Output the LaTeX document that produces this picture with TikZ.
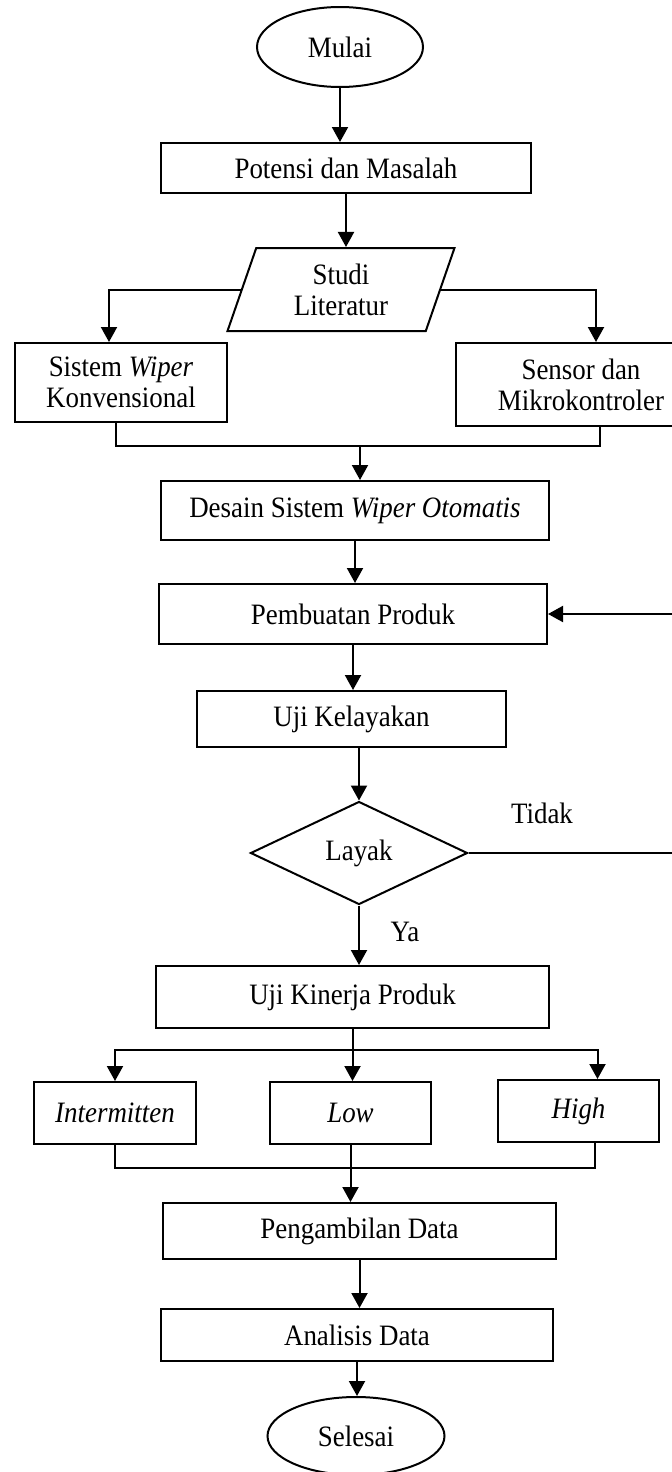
\documentclass[tikz,border=0pt]{standalone}
\usepackage{fontspec}
\setmainfont{Liberation Serif}[FakeStretch=0.91]
\usetikzlibrary{arrows.meta,shapes,calc}

\tikzset{
  blok/.style = {draw, rectangle, line width=1pt, align=center, inner sep=2pt},
  ujung/.style = {draw, ellipse, line width=1pt, inner sep=0pt},
  garis/.style = {line width=1pt},
  panah/.style = {line width=1pt, -{Triangle[length=7.5pt,width=8pt]}}
}

\begin{document}
\begin{tikzpicture}[x=0.5pt, y=-0.5pt, font=\fontsize{14.8}{15.5}\selectfont]
\useasboundingbox (0,0) rectangle (672,1472);

\node[ujung, minimum width=83pt, minimum height=40pt] (mulai) at (340,47) {Mulai};
\node[blok, minimum width=185pt, minimum height=25pt] (potensi) at (346,168) {Potensi dan Masalah};
\node[draw, trapezium, trapezium left angle=61, trapezium right angle=119,
      trapezium stretches body, line width=1pt, align=center, inner sep=0pt,
      minimum width=113.5pt, minimum height=41.5pt] (studi) at (341,289.5) {Studi\\Literatur};
\node[blok, minimum width=106pt, minimum height=39.5pt] (sistem) at (121,382.5) {Sistem \textit{Wiper}\\Konvensional};
\node[blok, minimum width=125pt, minimum height=41.5pt] (sensor) at (581,384.5) {Sensor dan\\Mikrokontroler};
\node[blok, minimum width=194pt, minimum height=29.5pt] (desain) at (355,510.5) {Desain Sistem \textit{Wiper Otomatis}};
\node[blok, minimum width=194pt, minimum height=30pt] (pembuatan) at (353,614) {Pembuatan Produk};
\node[blok, minimum width=154.5pt, minimum height=28pt] (kelayakan) at (351.5,719) {Uji Kelayakan};
\node[draw, diamond, line width=1pt, inner sep=0pt, minimum width=108.5pt, minimum height=51.5pt] (layak) at (359,853) {Layak};
\node (tidak) at (542,813) {Tidak};
\node (ya) at (405,932) {Ya};
\node[blok, minimum width=196.5pt, minimum height=31pt] (kinerja) at (352.5,997) {Uji Kinerja Produk};
\node[blok, minimum width=81pt, minimum height=31pt] (intermitten) at (115,1113) {\textit{Intermitten}};
\node[blok, minimum width=80.5pt, minimum height=31pt] (low) at (350.5,1113) {\textit{Low}};
\node[blok, minimum width=80.5pt, minimum height=31pt] (high) at (578.5,1111) {\textit{High}};
\node[blok, minimum width=196.5pt, minimum height=28pt] (pengambilan) at (359.5,1231) {Pengambilan Data};
\node[blok, minimum width=196pt, minimum height=26pt] (analisis) at (357,1335) {Analisis Data};
\node[ujung, minimum width=88.5pt, minimum height=39pt] (selesai) at (356,1436) {Selesai};

\coordinate (g1) at (360,446);
\coordinate (g2) at (352.5,1050);
\coordinate (g3) at (352,1168);
\coordinate (balik) at (690,853);

\draw[panah] (mulai.south) -- (mulai.south |- potensi.north);
\draw[panah] (potensi.south) -- (potensi.south |- studi.north);
\draw[panah] (studi.west) -| ([xshift=-6pt]sistem.north);
\draw[panah] (studi.east) -| ([xshift=7.5pt]sensor.north);
\draw[garis] ([xshift=-2.5pt]sistem.south) |- (g1) -| ([xshift=9.5pt]sensor.south);
\draw[panah] (g1) -- (g1 |- desain.north);
\draw[panah] (desain.south) -- (desain.south |- pembuatan.north);
\draw[panah] (pembuatan.south) -- (pembuatan.south |- kelayakan.north);
\draw[panah] (layak.north |- kelayakan.south) -- (layak.north);
\draw[panah] (layak.south) -- (layak.south |- kinerja.north);
\draw[panah] (layak.east) -- (balik) |- (pembuatan.east);
\draw[garis] (kinerja.south) -- (g2);
\draw[panah] (g2) -| (intermitten.north);
\draw[panah] (g2) -- (g2 |- low.north);
\draw[panah] (g2) -| ([xshift=9.5pt]high.north);
\draw[garis] (intermitten.south) |- (g3) -| ([xshift=8pt]high.south);
\draw[panah] (low.south) -- (low.south |- pengambilan.north);
\draw[panah] (pengambilan.south) -- (pengambilan.south |- analisis.north);
\draw[panah] (analisis.south) -- (analisis.south |- selesai.north);

\end{tikzpicture}
\end{document}
